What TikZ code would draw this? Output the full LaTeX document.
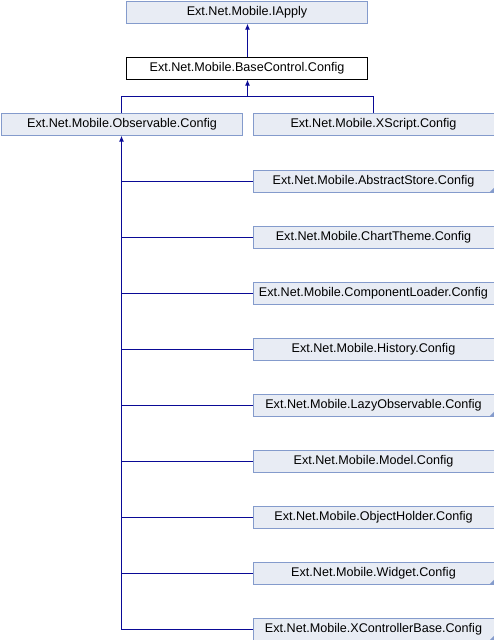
\documentclass[tikz,border=0pt]{standalone}
\usepackage{fontspec}
\setmainfont{Liberation Sans}
\usetikzlibrary{arrows.meta}
\definecolor{boxfill}{RGB}{232,236,244}
\definecolor{boxline}{RGB}{132,155,204}
\definecolor{edgeblue}{RGB}{10,10,150}

\tikzset{
  cls/.style={draw=boxline, fill=boxfill, minimum width=241pt, minimum height=22pt,
    inner sep=0pt, font=\fontsize{12.6}{15}\selectfont},
  curcls/.style={cls, draw=black, fill=white},
  inh/.style={draw=edgeblue, line width=1pt},
  tip/.style={inh, {Latex[length=6pt,width=5pt]}-},
  more/.style={fill=boxline}
}

\begin{document}
\begin{tikzpicture}[x=1pt,y=-1pt]
\useasboundingbox (0,0) rectangle (494,640);

\node[cls] (iapply) at (247,12.5) {Ext.Net.Mobile.IApply};
\node[curcls] (basecfg) at (247,68.5) {Ext.Net.Mobile.BaseControl.Config};
\node[cls] (observable) at (122,124.5) {Ext.Net.Mobile.Observable.Config};
\node[cls] (xscript) at (373.5,124.5) {Ext.Net.Mobile.XScript.Config};

\node[cls] (abstractstore) at (373.5,181.5) {Ext.Net.Mobile.AbstractStore.Config};
\node[cls] (charttheme) at (373.5,237.5) {Ext.Net.Mobile.ChartTheme.Config};
\node[cls] (comploader) at (373.5,293.5) {Ext.Net.Mobile.ComponentLoader.Config};
\node[cls] (history) at (373.5,349.5) {Ext.Net.Mobile.History.Config};
\node[cls] (lazyobs) at (373.5,405.5) {Ext.Net.Mobile.LazyObservable.Config};
\node[cls] (model) at (373.5,461.5) {Ext.Net.Mobile.Model.Config};
\node[cls] (objholder) at (373.5,517.5) {Ext.Net.Mobile.ObjectHolder.Config};
\node[cls] (widget) at (373.5,573.5) {Ext.Net.Mobile.Widget.Config};
\node[cls] (xcontroller) at (373.5,629.5) {Ext.Net.Mobile.XControllerBase.Config};

% folded corners
\foreach \n in {abstractstore,lazyobs,widget,xcontroller}
  \fill[more] (\n.south east) -- ++(-5,0) -- ++(5,-5) -- cycle;

% BaseControl.Config -> IApply
\draw[tip] ([xshift=0.5pt]iapply.south) -- ([xshift=0.5pt]basecfg.north);

% Observable / XScript -> BaseControl.Config
\coordinate (bus) at (247.5,96.5);
\draw[tip] ([xshift=0.5pt]basecfg.south) -- (bus);
\draw[inh] ([xshift=-0.5pt]observable.north) |- (bus) -| (xscript.north);

% subclasses of Observable.Config
\coordinate (trunk) at ([xshift=-0.5pt]observable.south);
\draw[tip] (trunk) -- (trunk |- xcontroller.west);
\foreach \sub in {abstractstore,charttheme,comploader,history,lazyobs,model,objholder,widget,xcontroller}
  \draw[inh] (trunk |- \sub.west) -- (\sub.west);
\end{tikzpicture}
\end{document}
